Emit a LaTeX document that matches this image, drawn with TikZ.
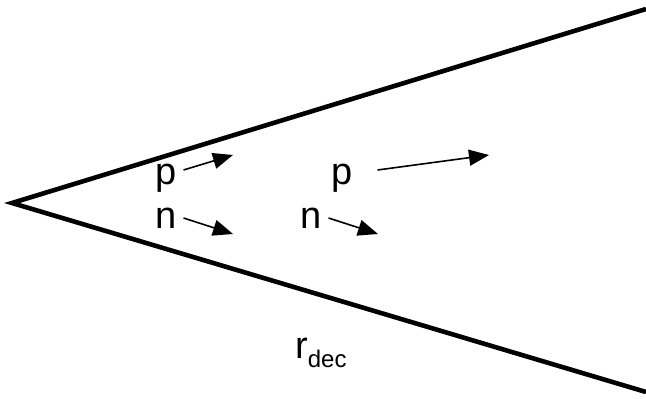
\documentclass[tikz,border=0pt]{standalone}
\usepackage{fontspec}
\setmainfont{Liberation Sans}
\usetikzlibrary{arrows.meta}
\tikzset{
  wall/.style={line width=4.6pt},
  lbl/.style={inner sep=0pt,anchor=base west,font=\fontsize{38}{44}\selectfont},
  vec/.style={line width=1.6pt,-{Triangle[length=20pt,width=16pt]}}
}
\begin{document}
\begin{tikzpicture}[x=1pt,y=-1pt]
    \useasboundingbox (0,0) rectangle (646,399);
    % Cone walls
    \coordinate (apex) at (12,203);
    \coordinate (top) at (646,9);
    \coordinate (bot) at (646,392);
    \draw[wall,line join=miter] (top) -- (apex) -- (bot);

    % Labels
    \node[lbl] (p1) at (155,184) {p};
    \node[lbl] (n1) at (155,228) {n};
    \node[lbl] (p2) at (331,184) {p};
    \node[lbl] (n2) at (300,228) {n};
    \node[lbl] (rdec) at (295,358)
      {r\raisebox{-9pt}{\fontsize{24}{28}\selectfont dec}};

    % Momentum arrows
    \coordinate (p1tip) at (233,155);
    \coordinate (n1tip) at (233,234);
    \coordinate (p2tip) at (489,155);
    \coordinate (n2tip) at (378,234);
    \draw[vec] ([shift={(7,-14)}]p1.base east) -- (p1tip);
    \draw[vec] ([shift={(7,-10)}]n1.base east) -- (n1tip);
    \draw[vec] ([shift={(25,-14)}]p2.base east) -- (p2tip);
    \draw[vec] ([shift={(7,-10)}]n2.base east) -- (n2tip);
\end{tikzpicture}
\end{document}
